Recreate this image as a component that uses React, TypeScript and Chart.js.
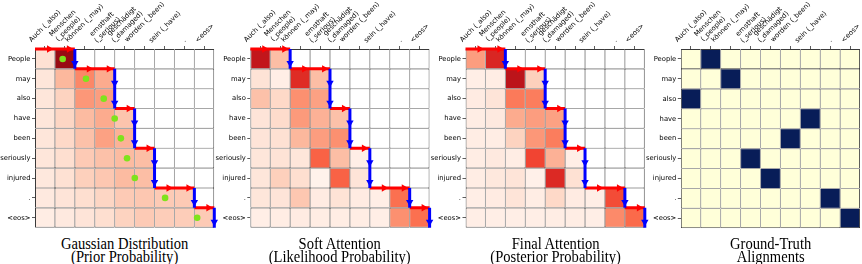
import React, { useEffect, useRef } from "react";
import { Chart, registerables } from "chart.js";
Chart.register(...registerables);

// ---------- data ----------
const ROW_LABELS = ["People", "may", "also", "have", "been", "seriously", "injured", ".", "<eos>"];
const COL_LABELS = [
  ["Auch (_also)"],
  ["Menschen", "(_people)"],
  ["können (_may)"],
  ["ernsthaft", "(_serious)"],
  ["geschädigt", "(_damaged)"],
  ["worden (_been)"],
  ["sein (_have)"],
  ["."],
  ["<eos>"],
];
// last source column reached by the monotonic alignment path, per target row
const PATH_END = [1, 3, 3, 4, 4, 5, 5, 7, 8];

const PRIOR = [
  [0.12, 0.9, null, null, null, null, null, null, null],
  [0.09, 0.26, 0.41, 0.3, null, null, null, null, null],
  [0.09, 0.17, 0.36, 0.34, null, null, null, null, null],
  [0.09, 0.16, 0.25, 0.3, 0.22, null, null, null, null],
  [0.09, 0.15, 0.23, 0.33, 0.28, null, null, null, null],
  [0.09, 0.13, 0.2, 0.23, 0.25, 0.24, null, null, null],
  [0.08, 0.12, 0.18, 0.21, 0.25, 0.24, null, null, null],
  [0.07, 0.1, 0.13, 0.16, 0.2, 0.21, 0.2, 0.2, null],
  [0.05, 0.07, 0.1, 0.13, 0.17, 0.2, 0.19, 0.19, 0.2],
];
const PRIOR_MEAN = [0.89, 2.06, 2.95, 3.5, 3.81, 4.12, 4.51, 6.03, 7.64];

const SOFT = [
  [0.78, 0.24, null, null, null, null, null, null, null],
  [0.11, 0.04, 0.68, 0.24, null, null, null, null, null],
  [0.23, 0.15, 0.38, 0.33, null, null, null, null, null],
  [0.1, 0.14, 0.35, 0.28, 0.23, null, null, null, null],
  [0.1, 0.12, 0.26, 0.34, 0.38, null, null, null, null],
  [0.09, 0.11, 0.09, 0.52, 0.24, 0.04, null, null, null],
  [0.09, 0.18, 0.13, 0.02, 0.52, 0.1, null, null, null],
  [0.09, 0.1, 0.21, 0.06, 0.11, 0.06, 0.04, 0.48, null],
  [0.04, 0.05, 0.06, 0.05, 0.05, 0.05, 0.04, 0.38, 0.48],
];

const FINAL = [
  [0.34, 0.7, null, null, null, null, null, null, null],
  [0.04, 0.05, 0.8, 0.18, null, null, null, null, null],
  [0.06, 0.1, 0.45, 0.44, null, null, null, null, null],
  [0.05, 0.07, 0.3, 0.34, 0.33, null, null, null, null],
  [0.05, 0.05, 0.17, 0.36, 0.44, null, null, null, null],
  [0.05, 0.07, 0.05, 0.6, 0.28, 0.04, null, null, null],
  [0.05, 0.08, 0.1, 0.03, 0.69, 0.12, null, null, null],
  [0.04, 0.06, 0.1, 0.05, 0.15, 0.06, 0.04, 0.58, null],
  [0.04, 0.04, 0.04, 0.04, 0.05, 0.05, 0.04, 0.4, 0.5],
];

const TRUTH_COL = [1, 2, 0, 6, 5, 3, 4, 7, 8];

const TITLES = [
  ["Gaussian Distribution", "(Prior Probability)"],
  ["Soft Attention", "(Likelihood Probability)"],
  ["Final Attention", "(Posterior Probability)"],
  ["Ground-Truth", "Alignments"],
];

// ---------- style / layout ----------
const GRID_LEFT = [35, 250.3, 465.5, 680.8];
const GRID_TOP = 49;
const GRID_W = 179.3;
const GRID_H = 179.3;
const CANVAS_H = 232;
const PAGE_W = 862;
const LABEL_FONT = 6.8;
const LABEL_LH = 8;
const LABEL_GAP = 5;
const GRID_COLOR = "#3a3a3a";
const REDS = ["#fff5f0", "#fee0d2", "#fcbba1", "#fc9272", "#fb6a4a", "#ef3b2c", "#cb181d", "#a50f15", "#67000d"];
const TRUTH_ON = "#081d58";
const TRUTH_OFF = "#ffffd9";
const RED = "#ff0000";
const BLUE = "#0000ff";
const DOT = "#7ee31c";
const HEAD_R = 4.3;

function hexToRgb(h: string) {
  const n = parseInt(h.slice(1), 16);
  return [(n >> 16) & 255, (n >> 8) & 255, n & 255];
}
function reds(v: number) {
  const t = Math.max(0, Math.min(1, v)) * 8;
  const i = Math.min(7, Math.floor(t));
  const f = t - i;
  const a = hexToRgb(REDS[i]);
  const b = hexToRgb(REDS[i + 1]);
  const c = a.map((x, k) => Math.round(x + (b[k] - x) * f));
  return `rgb(${c[0]},${c[1]},${c[2]})`;
}

const MATRICES = [PRIOR, SOFT, FINAL];

function cellColor(panel: number, r: number, c: number) {
  if (panel === 3) return TRUTH_COL[r] === c ? TRUTH_ON : TRUTH_OFF;
  const v = MATRICES[panel][r][c];
  return v === null ? "#ffffff" : reds(v);
}

function buildPath(unit: number) {
  const back = (1.5 + HEAD_R) / unit; // tip slightly before the cell edge
  const gap = { x: NaN, y: NaN };
  const red: any[] = [];
  const blue: any[] = [];
  const redHeads: any[] = [];
  const blueHeads: any[] = [];
  let prev = -1;
  PATH_END.forEach((end, r) => {
    const top = r - 0.5;
    if (end > prev) {
      red.push({ x: prev + 0.5, y: top }, { x: end + 0.5, y: top }, gap);
      for (let c = prev + 1; c <= end; c++) redHeads.push({ x: c + 0.5 - back, y: top });
    }
    blue.push({ x: end + 0.5, y: top }, { x: end + 0.5, y: r + 0.5 }, gap);
    blueHeads.push({ x: end + 0.5, y: r + 0.5 - back });
    prev = end;
  });
  return { red, blue, redHeads, blueHeads };
}

function buildConfig(panel: number, axisW: number, rightPad: number) {
  const datasets: any[] = [];
  for (let c = 0; c < COL_LABELS.length; c++) {
    datasets.push({
      type: "bar",
      data: ROW_LABELS.map((_, r) => ({ x: [c - 0.5, c + 0.5], y: r })),
      backgroundColor: ROW_LABELS.map((_, r) => cellColor(panel, r, c)),
      borderColor: GRID_COLOR,
      borderWidth: ROW_LABELS.map((_, r) => ({
        left: c === 0 ? 1 : 0.55,
        right: c === 8 ? 1 : 0.55,
        top: r === 0 ? 1 : 0.55,
        bottom: r === 8 ? 1 : 0.55,
      })),
      borderSkipped: false,
      barPercentage: 1,
      categoryPercentage: 1,
      grouped: false,
      inflateAmount: 0,
      order: 10,
    });
  }
  if (panel < 3) {
    const unit = GRID_W / COL_LABELS.length;
    const p = buildPath(unit);
    const lineBase = { type: "line", indexAxis: "x", pointRadius: 0, borderWidth: 3, fill: false, spanGaps: false, clip: false, tension: 0 };
    const headBase = { type: "line", indexAxis: "x", showLine: false, pointStyle: "triangle", pointRadius: HEAD_R, pointBorderWidth: 0, clip: false };
    datasets.push({ ...lineBase, data: p.red, borderColor: RED, order: 5 });
    datasets.push({ ...headBase, data: p.redHeads, pointRotation: 90, pointBackgroundColor: RED, borderColor: RED, order: 4 });
    datasets.push({ ...lineBase, data: p.blue, borderColor: BLUE, order: 3 });
    datasets.push({ ...headBase, data: p.blueHeads, pointRotation: 180, pointBackgroundColor: BLUE, borderColor: BLUE, order: 2 });
  }
  if (panel === 0) {
    datasets.push({
      type: "line",
      indexAxis: "x",
      showLine: false,
      data: PRIOR_MEAN.map((m, r) => ({ x: m, y: r })),
      pointRadius: 3.3,
      pointBorderWidth: 0,
      pointBackgroundColor: DOT,
      borderColor: DOT,
      clip: false,
      order: 1,
    });
  }
  const idxTicks = (s: any) => {
    s.ticks = ROW_LABELS.map((_, i) => ({ value: i }));
  };
  return {
    type: "bar",
    data: { datasets },
    options: {
      indexAxis: "y",
      animation: false,
      responsive: false,
      devicePixelRatio: 1,
      layout: { padding: { left: 0, top: 0, right: rightPad, bottom: CANVAS_H - GRID_TOP - GRID_H } },
      plugins: { legend: { display: false }, tooltip: { enabled: false }, title: { display: false } },
      scales: {
        x: {
          type: "linear",
          position: "top",
          min: -0.5,
          max: 8.5,
          offset: false,
          beginAtZero: false,
          afterBuildTicks: idxTicks,
          afterFit: (s: any) => {
            s.height = GRID_TOP;
            s.paddingLeft = 0;
            s.paddingRight = 0;
          },
          ticks: { display: false },
          border: { display: false },
          grid: { offset: false, drawOnChartArea: false, drawTicks: true, tickLength: 3, tickColor: "#333", tickWidth: 0.8 },
        },
        y: {
          type: "linear",
          position: "left",
          reverse: true,
          min: -0.5,
          max: 8.5,
          offset: false,
          afterBuildTicks: idxTicks,
          afterFit: (s: any) => {
            s.width = axisW;
            s.paddingTop = 0;
            s.paddingBottom = 0;
          },
          ticks: {
            autoSkip: false,
            padding: 1.5,
            color: "#000",
            font: { family: "DejaVu Sans", size: LABEL_FONT },
            callback: (v: any) => ROW_LABELS[v] ?? "",
          },
          border: { display: false },
          grid: { offset: false, drawOnChartArea: false, drawTicks: true, tickLength: 3, tickColor: "#333", tickWidth: 0.8 },
        },
      },
    },
  };
}

let measureCtx: CanvasRenderingContext2D | null = null;
function textWidth(s: string) {
  if (!measureCtx) measureCtx = document.createElement("canvas").getContext("2d");
  measureCtx!.font = `${LABEL_FONT}px "DejaVu Sans"`;
  return measureCtx!.measureText(s).width;
}

function ColLabels({ index }: { index: number }) {
  const unit = GRID_W / COL_LABELS.length;
  return (
    <>
      {COL_LABELS.map((lines, c) => {
        const W = Math.max(...lines.map(textWidth));
        const H = lines.length * LABEL_LH;
        const bh = (W + H) * Math.SQRT1_2;
        const cx = GRID_LEFT[index] + (c + 0.5) * unit;
        const cy = GRID_TOP - LABEL_GAP - bh / 2;
        return (
          <div
            key={c}
            style={{
              position: "absolute",
              left: cx - W / 2,
              top: cy - H / 2,
              width: W,
              height: H,
              transform: "rotate(-45deg)",
              transformOrigin: "50% 50%",
              fontFamily: '"DejaVu Sans"',
              fontSize: LABEL_FONT,
              lineHeight: `${LABEL_LH}px`,
              textAlign: "center",
              whiteSpace: "pre",
              color: "#000",
            }}
          >
            {lines.join("\n")}
          </div>
        );
      })}
    </>
  );
}

function Panel({ index }: { index: number }) {
  const ref = useRef<HTMLCanvasElement | null>(null);
  const left = Math.floor(GRID_LEFT[index] - 35);
  const axisW = GRID_LEFT[index] - left;
  const w = index === 3 ? PAGE_W - left : 250;
  const rightPad = w - axisW - GRID_W;
  useEffect(() => {
    const chart = new Chart(ref.current as HTMLCanvasElement, buildConfig(index, axisW, rightPad) as any);
    return () => chart.destroy();
  }, [index]);
  return (
    <canvas
      ref={ref}
      width={w}
      height={CANVAS_H}
      style={{ position: "absolute", left, top: 0, width: w, height: CANVAS_H }}
    />
  );
}

export default function App() {
  return (
    <div style={{ position: "absolute", left: 0, top: 0, width: PAGE_W, height: 264, overflow: "hidden", background: "#fff" }}>
      {TITLES.map((_, i) => (
        <Panel key={i} index={i} />
      ))}
      {TITLES.map((_, i) => (
        <ColLabels key={"c" + i} index={i} />
      ))}
      {TITLES.map((t, i) => (
        <div
          key={"t" + i}
          style={{
            position: "absolute",
            left: GRID_LEFT[i] - 30,
            width: GRID_W + 60,
            top: 237,
            textAlign: "center",
            fontFamily: '"Liberation Serif", "Times New Roman", serif',
            fontSize: 16,
            lineHeight: "13px",
            color: "#000",
            whiteSpace: "nowrap",
            transform: "scaleX(0.91)",
            transformOrigin: "50% 50%",
          }}
        >
          {t[0]}
          <br />
          {t[1]}
        </div>
      ))}
    </div>
  );
}
